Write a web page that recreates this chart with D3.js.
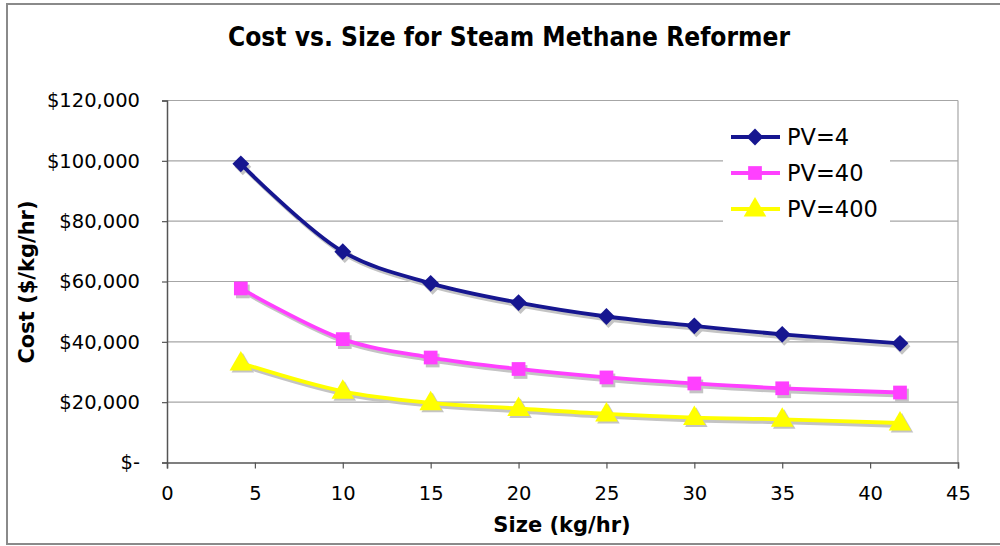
<!DOCTYPE html>
<html>
<head>
<meta charset="utf-8">
<script src="https://cdn.jsdelivr.net/npm/d3@7"></script>
<style>
    body { margin: 0; background: #fff; }
    text { font-family: "DejaVu Sans", Verdana, sans-serif; fill: #000; }
</style>
</head>
<body>
<div id="chart"></div>
<script>
const width = 1000;
const height = 546;

// data
const sizes = [4.2, 10, 15, 20, 25, 30, 35, 41.7];
const seriesNames = ["PV=4", "PV=40", "PV=400"];
const pv4 = [99000, 69900, 59400, 53000, 48400, 45300, 42500, 39500];
const pv40 = [57700, 40900, 34800, 31000, 28200, 26200, 24600, 23200];
const pv400 = [33000, 23600, 19800, 17900, 16100, 14900, 14300, 13100];
const xTicks = [0, 5, 10, 15, 20, 25, 30, 35, 40, 45];
const yTicks = [0, 20000, 40000, 60000, 80000, 100000, 120000];

const colors = ["#161690", "#ff40ff", "#ffff00"];
const shapes = [d3.symbolDiamond2, d3.symbolSquare2, d3.symbolTriangle];
const series = [pv4, pv40, pv400].map((vals, i) => ({
    name: seriesNames[i],
    color: colors[i],
    shape: shapes[i],
    values: vals.map((v, j) => ({ x: sizes[j], y: v }))
}));

const plot = { left: 167, right: 958, top: 100.5, bottom: 462.5 };

let svg = d3.select("#chart").append("svg")
    .attr("width", width)
    .attr("height", height);

// outer frame
svg.append("rect")
    .attr("x", 7).attr("y", 4)
    .attr("width", 1000).attr("height", 540)
    .attr("fill", "none")
    .attr("stroke", "#8a8a8a")
    .attr("stroke-width", 2);

let xScale = d3.scaleLinear()
    .domain([0, 45])
    .range([plot.left, plot.right]);

let yScale = d3.scaleLinear()
    .domain([0, 120000])
    .range([plot.bottom, plot.top]);

// gridlines
svg.append("g")
    .selectAll("line")
    .data(yTicks.filter(d => d > 0))
    .join("line")
    .attr("x1", plot.left).attr("x2", plot.right)
    .attr("y1", d => yScale(d)).attr("y2", d => yScale(d))
    .attr("stroke", "#a6a6a6")
    .attr("stroke-width", 1.2);

// right border of plot area
svg.append("line")
    .attr("x1", plot.right).attr("x2", plot.right)
    .attr("y1", plot.top).attr("y2", plot.bottom)
    .attr("stroke", "#a6a6a6")
    .attr("stroke-width", 1.2);

let yFormat = d => d === 0 ? "$-" : "$" + d3.format(",")(d);

let yAxis = svg.append("g")
    .attr("transform", `translate(${plot.left},0)`)
    .call(d3.axisLeft(yScale).tickValues(yTicks).tickFormat(yFormat).tickSize(5).tickPadding(22));
yAxis.selectAll(".tick text")
    .style("font-size", "19.5px")
    .style("font-family", "'DejaVu Sans', Verdana, sans-serif");

let xAxis = svg.append("g")
    .attr("transform", `translate(0,${plot.bottom})`)
    .call(d3.axisBottom(xScale).tickValues(xTicks).tickSize(6).tickPadding(18));
xAxis.selectAll(".tick text")
    .style("font-size", "19.5px")
    .style("font-family", "'DejaVu Sans', Verdana, sans-serif");

[xAxis, yAxis].forEach(a => {
    a.select(".domain").attr("stroke", "#555").attr("stroke-width", 1.5);
    a.selectAll(".tick line").attr("stroke", "#555").attr("stroke-width", 1.2);
});

// lines
let line = d3.line()
    .x(d => xScale(d.x))
    .y(d => yScale(d.y))
    .curve(d3.curveCatmullRom.alpha(0.5));

let symbol = (shape, size) => d3.symbol().type(shape).size(size)();
const symSizes = [180, 240, 220];

series.forEach((s, i) => {
    let g = svg.append("g");
    // shadow
    g.append("path")
        .attr("d", line(s.values))
        .attr("transform", "translate(2,3)")
        .attr("fill", "none")
        .attr("stroke", "#c4c4c4")
        .attr("stroke-width", 3.8);
    g.selectAll(".shadow")
        .data(s.values)
        .join("path")
        .attr("class", "shadow")
        .attr("d", symbol(s.shape, symSizes[i]))
        .attr("transform", d => `translate(${xScale(d.x) + 2},${yScale(d.y) + 3})`)
        .attr("fill", "#c4c4c4");
    g.append("path")
        .attr("d", line(s.values))
        .attr("fill", "none")
        .attr("stroke", s.color)
        .attr("stroke-width", 3.8);
    g.selectAll(".marker")
        .data(s.values)
        .join("path")
        .attr("class", "marker")
        .attr("d", symbol(s.shape, symSizes[i]))
        .attr("transform", d => `translate(${xScale(d.x)},${yScale(d.y) + (i === 2 ? 1 : 0)})`)
        .attr("fill", s.color);
});

// legend
let legend = svg.append("g");
legend.append("rect")
    .attr("x", 723).attr("y", 118)
    .attr("width", 167).attr("height", 108)
    .attr("fill", "#fff");

series.forEach((s, i) => {
    let y = 137 + i * 36;
    let row = legend.append("g").attr("transform", `translate(0,${y})`);
    row.append("line")
        .attr("x1", 731).attr("x2", 780)
        .attr("stroke", s.color)
        .attr("stroke-width", 3.8);
    row.append("path")
        .attr("d", symbol(s.shape, symSizes[i]))
        .attr("transform", `translate(755,${i === 2 ? 1 : 0})`)
        .attr("fill", s.color);
    row.append("text")
        .attr("x", 787)
        .attr("y", 8)
        .style("font-size", "22.5px")
        .text(s.name);
});

// titles
svg.append("text")
    .attr("x", 509)
    .attr("y", 46)
    .attr("text-anchor", "middle")
    .style("font-family", "'DejaVu Sans Condensed', 'DejaVu Sans', sans-serif")
    .style("font-weight", "bold")
    .style("font-size", "26px")
    .attr("textLength", 562)
    .attr("lengthAdjust", "spacingAndGlyphs")
    .text("Cost vs. Size for Steam Methane Reformer");

svg.append("text")
    .attr("x", 562)
    .attr("y", 532)
    .attr("text-anchor", "middle")
    .style("font-weight", "bold")
    .style("font-size", "21px")
    .text("Size (kg/hr)");

svg.append("text")
    .attr("transform", "translate(34,282) rotate(-90)")
    .attr("text-anchor", "middle")
    .style("font-weight", "bold")
    .style("font-size", "21px")
    .text("Cost ($/kg/hr)");
</script>
</body>
</html>
